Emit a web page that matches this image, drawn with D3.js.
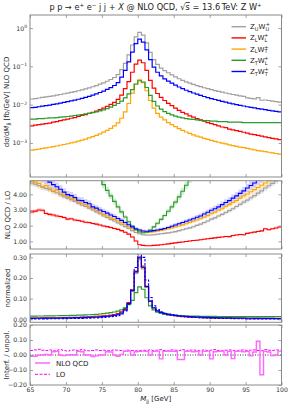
<!DOCTYPE html>
<html>
<head>
<meta charset="utf-8">
<script src="https://cdn.jsdelivr.net/npm/d3@7"></script>
<style>
  body { margin: 0; background: #fff; }
  svg { font-family: "DejaVu Sans", sans-serif; }
</style>
</head>
<body>
<svg id="chart"></svg>
<script>
// binning: 65 .. 100 GeV in 0.5 GeV bins
var binLo = 65, binW = 0.5;
var xTicks = [65, 70, 75, 80, 85, 90, 95, 100];

// NLO QCD dsigma/dMjj [fb/GeV]
var nloUU = [0.0140, 0.0144, 0.0149, 0.0154, 0.0159, 0.0164, 0.0170, 0.0177, 0.0184, 0.0192,
  0.0200, 0.0209, 0.0219, 0.0230, 0.0243, 0.0258, 0.0274, 0.0293, 0.0315, 0.0341,
  0.0371, 0.0408, 0.0453, 0.0511, 0.0610, 0.0820, 0.120, 0.200, 0.360, 0.590,
  0.770, 0.650, 0.410, 0.230, 0.150, 0.112, 0.090, 0.077, 0.068, 0.0595,
  0.0528, 0.0474, 0.0430, 0.0394, 0.0363, 0.0337, 0.0314, 0.0294, 0.0276, 0.0260,
  0.0246, 0.0233, 0.0221, 0.0211, 0.0201, 0.0192, 0.0184, 0.0177, 0.0170, 0.0164,
  0.0150, 0.0146, 0.0142, 0.0152, 0.0130, 0.0132, 0.0128, 0.0124, 0.0120, 0.0116];
var nloLL = [0.0028, 0.0029, 0.0030, 0.0031, 0.0032, 0.0033, 0.0035, 0.0036, 0.0038, 0.0040,
  0.0042, 0.0044, 0.0046, 0.0049, 0.0052, 0.0055, 0.0059, 0.0063, 0.0068, 0.0074,
  0.0081, 0.0090, 0.0101, 0.0115, 0.0137, 0.0178, 0.0260, 0.0400, 0.0700, 0.114,
  0.146, 0.124, 0.078, 0.043, 0.027, 0.0195, 0.0155, 0.0128, 0.0108, 0.0094,
  0.0081, 0.0071, 0.0063, 0.0057, 0.0051, 0.0047, 0.0043, 0.0040, 0.0037, 0.0034,
  0.0032, 0.0030, 0.0028, 0.0026, 0.0025, 0.0023, 0.0022, 0.0021, 0.0020, 0.0019,
  0.0018, 0.0017, 0.00165, 0.00158, 0.00150, 0.00144, 0.00138, 0.00132, 0.00127, 0.00122];
var nloLT = [0.00065, 0.00067, 0.00069, 0.00072, 0.00074, 0.00077, 0.00080, 0.00083, 0.00087, 0.00091,
  0.00095, 0.00100, 0.00105, 0.00111, 0.00118, 0.00126, 0.00135, 0.00146, 0.00158, 0.00173,
  0.00191, 0.00213, 0.00241, 0.00277, 0.00335, 0.00440, 0.0065, 0.0108, 0.0200, 0.0340,
  0.0440, 0.0375, 0.0230, 0.0128, 0.0081, 0.0059, 0.0047, 0.0040, 0.0034, 0.0030,
  0.00265, 0.00236, 0.00212, 0.00193, 0.00177, 0.00163, 0.00151, 0.00141, 0.00132, 0.00124,
  0.00117, 0.00110, 0.00104, 0.00099, 0.00094, 0.00089, 0.00085, 0.00081, 0.00078, 0.00075,
  0.00072, 0.00069, 0.00066, 0.00063, 0.00061, 0.00059, 0.00057, 0.00055, 0.00053, 0.00051];
var nloTL = [0.0042, 0.0042, 0.0043, 0.0043, 0.0044, 0.0045, 0.0045, 0.0046, 0.0047, 0.0048,
  0.0049, 0.0050, 0.0052, 0.0053, 0.0055, 0.0057, 0.0059, 0.0062, 0.0065, 0.0069,
  0.0073, 0.0079, 0.0086, 0.0095, 0.0107, 0.0124, 0.0150, 0.0190, 0.0245, 0.0345,
  0.0420, 0.0390, 0.0280, 0.0175, 0.0122, 0.0092, 0.0076, 0.0066, 0.0059, 0.0054,
  0.0050, 0.0047, 0.0045, 0.0043, 0.0042, 0.0041, 0.0040, 0.0039, 0.0038, 0.0038,
  0.0037, 0.0037, 0.0036, 0.0036, 0.0036, 0.0035, 0.0035, 0.0035, 0.0035, 0.0034,
  0.0034, 0.0034, 0.0034, 0.0034, 0.0034, 0.0034, 0.0034, 0.0034, 0.0034, 0.0034];
var nloTT = [0.0083, 0.0085, 0.0088, 0.0091, 0.0094, 0.0097, 0.0101, 0.0105, 0.0109, 0.0114,
  0.0119, 0.0125, 0.0131, 0.0138, 0.0146, 0.0155, 0.0165, 0.0177, 0.0191, 0.0207,
  0.0226, 0.0250, 0.0279, 0.0316, 0.0375, 0.0520, 0.0780, 0.130, 0.235, 0.390,
  0.510, 0.430, 0.270, 0.150, 0.095, 0.070, 0.056, 0.047, 0.041, 0.0365,
  0.0322, 0.0288, 0.0260, 0.0237, 0.0218, 0.0201, 0.0187, 0.0174, 0.0163, 0.0153,
  0.0144, 0.0136, 0.0129, 0.0122, 0.0116, 0.0110, 0.0105, 0.0100, 0.0096, 0.0092,
  0.0088, 0.0085, 0.0082, 0.0079, 0.0076, 0.0074, 0.0071, 0.0069, 0.0067, 0.0065];

// NLO QCD / LO
var kUU = [4.72, 4.65, 4.55, 4.45, 4.38, 4.30, 4.18, 4.10, 3.98, 3.85,
  3.76, 3.66, 3.55, 3.44, 3.32, 3.22, 3.12, 3.00, 2.88, 2.76,
  2.62, 2.52, 2.40, 2.30, 2.18, 2.06, 1.94, 1.82, 1.68, 1.56,
  1.48, 1.42, 1.40, 1.40, 1.42, 1.45, 1.48, 1.51, 1.54, 1.58,
  1.62, 1.68, 1.74, 1.80, 1.86, 1.93, 2.02, 2.10, 2.20, 2.30,
  2.42, 2.50, 2.62, 2.72, 2.84, 2.96, 3.08, 3.22, 3.36, 3.50,
  3.63, 3.78, 3.92, 4.08, 4.22, 4.40, 4.55, 4.70, 4.86, 5.02];
var kLL = [2.87, 2.93, 3.00, 2.98, 2.78, 2.72, 2.68, 2.62, 2.58, 2.52,
  2.42, 2.44, 2.36, 2.33, 2.28, 2.22, 2.20, 2.14, 2.10, 2.04,
  1.98, 1.94, 1.88, 1.82, 1.76, 1.68, 1.58, 1.46, 1.28, 1.02,
  0.78, 0.74, 0.72, 0.72, 0.74, 0.76, 0.78, 0.81, 0.84, 0.87,
  0.90, 0.93, 0.96, 0.99, 1.02, 1.05, 1.07, 1.10, 1.13, 1.16,
  1.19, 1.22, 1.25, 1.28, 1.31, 1.30, 1.37, 1.40, 1.44, 1.42,
  1.51, 1.55, 1.59, 1.63, 1.67, 1.80, 1.74, 1.80, 1.85, 1.91];
var kLT = [4.82, 4.78, 4.70, 4.50, 4.56, 4.40, 4.22, 4.30, 4.02, 3.95,
  3.86, 3.70, 3.74, 3.50, 3.40, 3.36, 3.20, 3.10, 2.98, 2.86,
  2.72, 2.62, 2.50, 2.40, 2.30, 2.18, 2.06, 1.94, 1.82, 1.72,
  1.64, 1.60, 1.58, 1.59, 1.62, 1.66, 1.70, 1.75, 1.80, 1.86,
  1.92, 1.98, 2.05, 2.12, 2.20, 2.28, 2.36, 2.44, 2.54, 2.64,
  2.76, 2.86, 2.98, 3.08, 3.22, 3.34, 3.48, 3.60, 3.76, 3.90,
  4.02, 4.16, 4.30, 4.44, 4.58, 4.72, 4.86, 5.00, 5.16, 5.30];
var kTL = [14.0, 13.4, 12.8, 12.2, 11.7, 11.1, 10.6, 10.1, 9.6, 9.1,
  8.7, 8.3, 7.9, 7.5, 7.1, 6.7, 6.3, 5.9, 5.5, 5.1,
  4.62, 4.25, 3.90, 3.55, 3.20, 2.88, 2.55, 2.25, 1.98, 1.75,
  1.60, 1.55, 1.58, 1.72, 1.92, 2.15, 2.40, 2.65, 2.92, 3.20,
  3.50, 3.84, 4.20, 4.58, 4.98, 5.40, 5.8, 6.2, 6.7, 7.2,
  7.7, 8.2, 8.7, 9.2, 9.8, 10.4, 11.0, 11.6, 12.2, 12.8,
  13.4, 14.0, 14.6, 15.2, 15.8, 16.4, 17.0, 17.6, 18.2, 18.8];
var kTT = [5.40, 5.28, 5.16, 5.04, 4.92, 4.78, 4.62, 4.48, 4.32, 4.14,
  3.98, 3.92, 3.80, 3.62, 3.60, 3.48, 3.40, 3.20, 3.12, 3.00,
  2.90, 2.80, 2.68, 2.58, 2.46, 2.34, 2.20, 2.06, 1.92, 1.80,
  1.72, 1.66, 1.64, 1.65, 1.68, 1.72, 1.76, 1.82, 1.88, 1.96,
  2.04, 2.12, 2.20, 2.28, 2.36, 2.44, 2.54, 2.62, 2.74, 2.86,
  2.98, 3.08, 3.20, 3.34, 3.48, 3.60, 3.76, 3.90, 4.06, 4.22,
  4.40, 4.56, 4.72, 4.90, 5.06, 5.22, 5.40, 5.56, 5.72, 5.90];
// relative half width of the scale uncertainty band, per series
var bandUU = 0.04, bandLL = 0.04, bandLT = 0.045, bandTL = 0.05, bandTT = 0.06;

// interference / unpolarised
var interfNLO = [-0.008, -0.008, 0.000, 0.000, 0.004, 0.000, 0.022, 0.024, 0.000, -0.004,
  0.000, 0.002, 0.000, 0.024, 0.022, 0.000, 0.000, -0.010, -0.006, 0.000,
  0.000, 0.022, 0.020, 0.000, -0.008, 0.004, 0.024, 0.026, 0.000, 0.022,
  0.024, 0.026, 0.024, 0.000, 0.024, 0.026, -0.026, 0.024, 0.026, 0.024,
  0.024, -0.030, -0.030, 0.024, 0.026, 0.022, 0.024, 0.000, 0.024, 0.026,
  -0.026, 0.022, 0.024, 0.026, 0.000, 0.024, -0.024, 0.024, 0.026, 0.022,
  0.024, -0.006, 0.020, 0.092, -0.132, 0.024, 0.020, -0.004, 0.000, 0.026];
var interfLO = [0.030, 0.034, 0.038, 0.032, 0.030, 0.034, 0.028, 0.032, 0.036, 0.030,
  0.026, 0.032, 0.034, 0.030, 0.036, 0.032, 0.028, 0.030, 0.034, 0.030,
  0.032, 0.028, 0.030, 0.034, 0.032, 0.030, 0.026, 0.032, 0.030, 0.028,
  0.030, 0.032, 0.030, 0.034, 0.030, 0.032, 0.036, 0.030, 0.028, 0.034,
  0.032, 0.030, 0.036, 0.028, 0.032, 0.034, 0.030, 0.028, 0.034, 0.030,
  0.032, 0.036, 0.030, 0.028, 0.032, 0.034, 0.030, 0.028, 0.032, 0.034,
  0.030, 0.032, 0.034, 0.030, 0.028, 0.036, 0.032, 0.030, 0.034, 0.032];

var seriesColor = ['#a0a0a0', '#ff0000', '#ffa500', '#2a9a2a', '#0000ff'];
var bandColor = ['#b8b8b8', '#ff8080', '#ffc860', '#80c880', '#8080ff'];
var zSub = ['U', 'L', 'L', 'T', 'T'];
var wSub = ['U', 'L', 'T', 'L', 'T'];

var series = [
  {nlo: nloUU, k: kUU, band: bandUU},
  {nlo: nloLL, k: kLL, band: bandLL},
  {nlo: nloLT, k: kLT, band: bandLT},
  {nlo: nloTL, k: kTL, band: bandTL},
  {nlo: nloTT, k: kTT, band: bandTT}
];

var svg = d3.select('#chart').attr('width', 293).attr('height', 410);

var x = d3.scaleLinear().domain([65, 100]).range([30, 281.5]);

var panels = [
  {top: 15, bottom: 177, y: d3.scaleLog().domain([Math.pow(10, -3.89), Math.pow(10, 0.34)]).range([177, 15])},
  {top: 180.7, bottom: 249, y: d3.scaleLinear().domain([0.51, 4.87]).range([249, 180.7])},
  {top: 254, bottom: 322.3, y: d3.scaleLinear().domain([-0.0145, 0.316]).range([322.3, 254])},
  {top: 325, bottom: 385, y: d3.scaleLinear().domain([-0.2, 0.2]).range([385, 325])}
];

function stepPoints(vals) {
  var pts = vals.map(function(v, i) { return [binLo + i * binW, v]; });
  pts.push([binLo + vals.length * binW, vals[vals.length - 1]]);
  return pts;
}

function stepLine(y) {
  return d3.line()
    .x(function(d) { return x(d[0]); })
    .y(function(d) { return y(d[1]); })
    .curve(d3.curveStepAfter);
}

var defs = svg.append('defs');
panels.forEach(function(p, i) {
  defs.append('clipPath').attr('id', 'clip' + i)
    .append('rect')
    .attr('x', x.range()[0]).attr('y', p.top)
    .attr('width', x.range()[1] - x.range()[0]).attr('height', p.bottom - p.top);
  p.g = svg.append('g').attr('clip-path', 'url(#clip' + i + ')');
});

// panel 1: differential cross sections
var p1 = panels[0];
series.forEach(function(s, i) {
  p1.g.append('path')
    .attr('d', stepLine(p1.y)(stepPoints(s.nlo)))
    .attr('fill', 'none')
    .attr('stroke', seriesColor[i])
    .attr('stroke-width', 1.2);
});

// panel 2: K-factors with bands
var p2 = panels[1];
series.forEach(function(s, i) {
  var pts = stepPoints(s.k);
  var area = d3.area()
    .x(function(d) { return x(d[0]); })
    .y0(function(d) { return p2.y(d[1] * (1 - s.band)); })
    .y1(function(d) { return p2.y(d[1] * (1 + s.band)); })
    .curve(d3.curveStepAfter);
  p2.g.append('path')
    .attr('d', area(pts))
    .attr('fill', bandColor[i])
    .attr('fill-opacity', 0.35);
});
series.forEach(function(s, i) {
  p2.g.append('path')
    .attr('d', stepLine(p2.y)(stepPoints(s.k)))
    .attr('fill', 'none')
    .attr('stroke', seriesColor[i])
    .attr('stroke-width', 1.1);
});

// panel 3: normalised shapes, NLO solid and LO dashed
var p3 = panels[2];
function normalise(vals) {
  var tot = d3.sum(vals) * binW;
  return vals.map(function(v) { return v / tot; });
}
series.forEach(function(s, i) {
  p3.g.append('path')
    .attr('d', stepLine(p3.y)(stepPoints(normalise(s.nlo))))
    .attr('fill', 'none')
    .attr('stroke', seriesColor[i])
    .attr('stroke-width', 1.2);
});
[4].forEach(function(i) {
  var s = series[i];
  var lo = s.nlo.map(function(v, j) { return v / s.k[j]; });
  p3.g.append('path')
    .attr('d', stepLine(p3.y)(stepPoints(normalise(lo))))
    .attr('fill', 'none')
    .attr('stroke', seriesColor[i])
    .attr('stroke-width', 1.1)
    .attr('stroke-dasharray', '2.5,1.5');
});

// panel 4: interference
var p4 = panels[3];
p4.g.append('line')
  .attr('x1', x(65)).attr('x2', x(100))
  .attr('y1', p4.y(0)).attr('y2', p4.y(0))
  .attr('stroke', '#000').attr('stroke-width', 0.8)
  .attr('stroke-dasharray', '1,1.5');
p4.g.append('path')
  .attr('d', stepLine(p4.y)(stepPoints(interfLO)))
  .attr('fill', 'none').attr('stroke', '#ff00ff')
  .attr('stroke-width', 1).attr('stroke-dasharray', '3,1.5');
p4.g.append('path')
  .attr('d', stepLine(p4.y)(stepPoints(interfNLO)))
  .attr('fill', 'none').attr('stroke', '#ff66ff')
  .attr('stroke-width', 1.4);

// axes and frames
var yTicks = [
  [1e-3, 1e-2, 1e-1, 1],
  [1, 2, 3, 4],
  [0, 0.1, 0.2, 0.3],
  [-0.2, -0.1, 0, 0.1, 0.2]
];
var frameColor = '#8a8a8a', textColor = '#333';

panels.forEach(function(p, i) {
  var left = svg.append('g').attr('transform', 'translate(' + x.range()[0] + ',0)')
    .call(d3.axisLeft(p.y).tickValues(yTicks[i]).tickSize(-3).tickPadding(3)
      .tickFormat(i === 0 ? function() { return ''; } : function(d) { return d3.format('.2f')(d).replace('-', '\u2212'); }));
  var right = svg.append('g').attr('transform', 'translate(' + x.range()[1] + ',0)')
    .call(d3.axisRight(p.y).tickValues(yTicks[i]).tickSize(-3).tickFormat(''));
  var top = svg.append('g').attr('transform', 'translate(0,' + p.top + ')')
    .call(d3.axisTop(x).tickValues(xTicks).tickSize(-3).tickFormat(''));
  var bottom = svg.append('g').attr('transform', 'translate(0,' + p.bottom + ')')
    .call(d3.axisBottom(x).tickValues(xTicks).tickSize(-3).tickPadding(3)
      .tickFormat(i === 3 ? d3.format('d') : function() { return ''; }));
  [left, right, top, bottom].forEach(function(a) {
    a.select('.domain').remove();
    a.selectAll('line').attr('stroke', frameColor).attr('stroke-width', 0.8);
    a.selectAll('text').attr('fill', textColor).style('font-size', '6.2px')
      .style('font-family', '"DejaVu Sans", sans-serif');
  });
  if (i === 0) {
    left.selectAll('text').each(function(d) {
      var t = d3.select(this);
      t.append('tspan').text('10');
      t.append('tspan').attr('dy', -2.5).style('font-size', '4.5px').text(Math.round(Math.log10(d)) === 0 ? '0' : '\u2212' + Math.abs(Math.round(Math.log10(d))));
    });
  }
  svg.append('rect')
    .attr('x', x.range()[0]).attr('y', p.top)
    .attr('width', x.range()[1] - x.range()[0]).attr('height', p.bottom - p.top)
    .attr('fill', 'none').attr('stroke', frameColor).attr('stroke-width', 1);
});

// title
var title = svg.append('text').attr('x', 155.5).attr('y', 10)
  .attr('text-anchor', 'middle').attr('fill', '#222').style('font-size', '8.2px');
title.append('tspan').text('p p \u2192 e');
title.append('tspan').attr('dy', -3).style('font-size', '5.5px').text('+');
title.append('tspan').attr('dy', 3).text(' e');
title.append('tspan').attr('dy', -3).style('font-size', '5.5px').text('\u2212');
title.append('tspan').attr('dy', 3).text(' j j + ');
title.append('tspan').style('font-style', 'italic').text('X');
title.append('tspan').text(' @ NLO QCD, \u221A');
title.append('tspan').style('text-decoration', 'overline').text('s');
title.append('tspan').text(' = 13.6\u2009TeV: Z W');
title.append('tspan').attr('dy', -3).style('font-size', '5.5px').text('+');

// y labels
function yLabel(cx, cy, build) {
  var t = svg.append('text')
    .attr('transform', 'translate(' + cx + ',' + cy + ') rotate(-90)')
    .attr('text-anchor', 'middle').attr('fill', '#222').style('font-size', '7px');
  build(t);
}
yLabel(8.5, 102, function(t) {
  t.append('tspan').text('d\u03C3/d');
  t.append('tspan').style('font-style', 'italic').text('M');
  t.append('tspan').attr('dy', 1.8).style('font-size', '5px').text('jj');
  t.append('tspan').attr('dy', -1.8).text('  [fb/GeV] NLO QCD');
});
yLabel(10, 215, function(t) { t.text('NLO QCD / LO'); });
yLabel(10, 288, function(t) { t.text('normalized'); });
yLabel(8.5, 355, function(t) { t.text('Interf. / unpol.'); });

// x label
var xl = svg.append('text').attr('x', 155.7).attr('y', 401)
  .attr('text-anchor', 'middle').attr('fill', '#222').style('font-size', '7px');
xl.append('tspan').style('font-style', 'italic').text('M');
xl.append('tspan').attr('dy', 1.8).style('font-size', '5px').text('jj');
xl.append('tspan').attr('dy', -1.8).text(' [GeV]');

// legend panel 1
var leg = svg.append('g');
seriesColor.forEach(function(c, i) {
  var ly = 26.7 + i * 11.2;
  leg.append('line').attr('x1', 231.5).attr('x2', 246).attr('y1', ly).attr('y2', ly)
    .attr('stroke', c).attr('stroke-width', 1.4);
  var t = leg.append('text').attr('x', 250).attr('y', ly + 2.5)
    .attr('fill', '#222').style('font-size', '7px');
  t.append('tspan').text('Z');
  t.append('tspan').attr('dy', 1.8).style('font-size', '5px').text(zSub[i]);
  t.append('tspan').attr('dy', -1.8).text('W');
  t.append('tspan').attr('dy', 1.8).style('font-size', '5px').text(wSub[i]);
  t.append('tspan').attr('dy', -4.8).attr('dx', -3.4).style('font-size', '5px').text('+');
});

// legend panel 4
var leg4 = svg.append('g');
[['NLO QCD', '#ff66ff', null, 1.5], ['LO', '#ff00ff', '3,1.5', 1]].forEach(function(e, i) {
  var ly = 363 + i * 11.3;
  leg4.append('line').attr('x1', 35).attr('x2', 50).attr('y1', ly).attr('y2', ly)
    .attr('stroke', e[1]).attr('stroke-width', e[3]).attr('stroke-dasharray', e[2]);
  leg4.append('text').attr('x', 56).attr('y', ly + 2.5)
    .attr('fill', '#222').style('font-size', '7px').text(e[0]);
});
</script>
</body>
</html>
